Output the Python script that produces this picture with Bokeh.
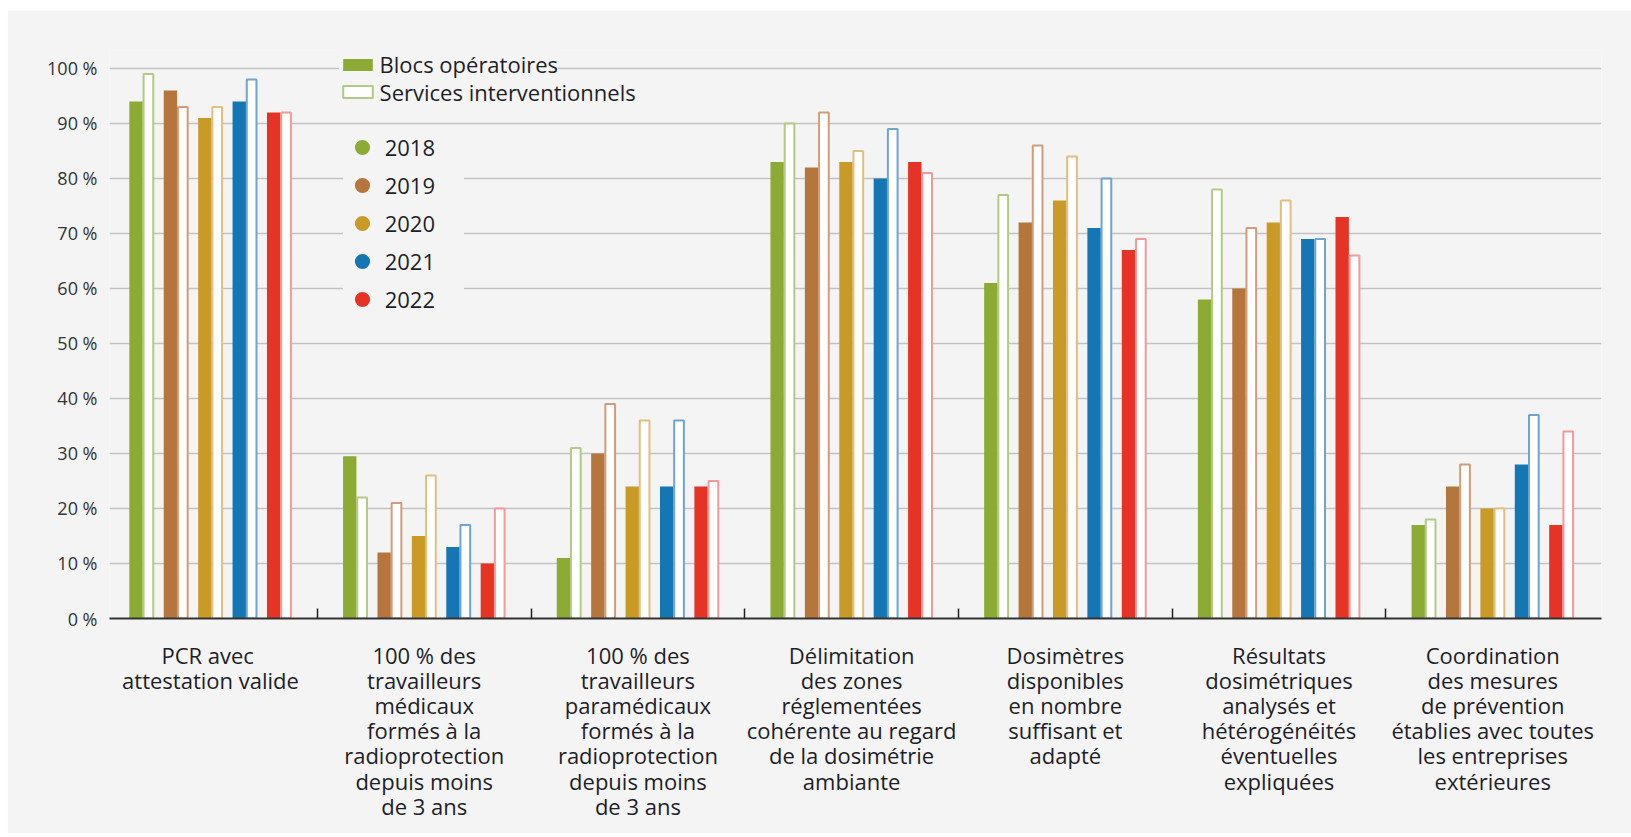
from bokeh.plotting import figure
from bokeh.models import ColumnDataSource, Range1d, FixedTicker, Legend, LegendItem
from bokeh.embed import file_html
from bokeh.resources import INLINE

# ---------------- data ----------------
categories = [
    "PCR  avec\nattestation valide",
    "100 % des\ntravailleurs\nmédicaux\nformés à la\nradioprotection\ndepuis moins\nde 3 ans",
    "100 % des\ntravailleurs\nparamédicaux\nformés à la\nradioprotection\ndepuis moins\nde 3 ans",
    "Délimitation\ndes zones\nréglementées\ncohérente au regard\nde la dosimétrie\nambiante",
    "Dosimètres\ndisponibles\nen nombre\nsuffisant et\nadapté",
    "Résultats\ndosimétriques\nanalysés et\nhétérogénéités\néventuelles\nexpliquées",
    "Coordination\ndes mesures\nde prévention\nétablies avec toutes\nles entreprises\nextérieures",
]
years = ["2018", "2019", "2020", "2021", "2022"]

blocs_2018 = [94, 29.5, 11, 83, 61, 58, 17]
blocs_2019 = [96, 12, 30, 82, 72, 60, 24]
blocs_2020 = [91, 15, 24, 83, 76, 72, 20]
blocs_2021 = [94, 13, 24, 80, 71, 69, 28]
blocs_2022 = [92, 10, 24, 83, 67, 73, 17]

services_2018 = [99, 22, 31, 90, 77, 78, 18]
services_2019 = [93, 21, 39, 92, 86, 71, 28]
services_2020 = [93, 26, 36, 85, 84, 76, 20]
services_2021 = [98, 17, 36, 89, 80, 69, 37]
services_2022 = [92, 20, 25, 81, 69, 66, 34]

blocs = [blocs_2018, blocs_2019, blocs_2020, blocs_2021, blocs_2022]
services = [services_2018, services_2019, services_2020, services_2021, services_2022]

series_labels = ["Blocs opératoires", "Services interventionnels"]
y_ticks = list(range(0, 101, 10))
y_tick_labels = [f"{v} %" for v in y_ticks]

# ---------------- style ----------------
colors = ["#8cab35", "#b5763e", "#c99b26", "#1477b3", "#e53425"]
outline_colors = ["#b2ca85", "#d09c7a", "#e0bf80", "#6ea3d2", "#f29a9a"]
BG = "#f4f4f4"
TXT = "#1e1e28"
FONT = "Open Sans"

pair_step = 0.161
filled_w = 0.0627
hollow_w = 0.0454

p = figure(width=1624, height=823, output_backend="svg", toolbar_location=None,
           x_range=Range1d(0.0274, 7.009), y_range=Range1d(0, 103.25),
           min_border_left=102, min_border_right=30, min_border_top=40,
           min_border_bottom=215)
p.margin = (10, 0, 0, 7)
p.background_fill_color = BG
p.border_fill_color = BG
p.outline_line_color = None

filled_renderers = []
hollow_renderers = []
sources = []
n = len(categories)
for j, yr in enumerate(years):
    centers = [k + 0.5 + (j - 2) * pair_step for k in range(n)]
    src = ColumnDataSource(dict(
        xb=[c - 0.0264 for c in centers],
        xs=[c + 0.0314 for c in centers],
        blocs=blocs[j],
        services=services[j],
    ))
    sources.append(src)
    rb = p.vbar(x="xb", top="blocs", bottom=0, width=filled_w, source=src,
                fill_color=colors[j], line_color=None)
    rs = p.vbar(x="xs", top="services", bottom=0, width=hollow_w, source=src,
                fill_color="white", line_color=outline_colors[j], line_width=2)
    filled_renderers.append(rb)
    hollow_renderers.append(rs)

# ---------------- axes ----------------
xa = p.xaxis[0]
xa.ticker = FixedTicker(ticks=[k + 0.5 for k in range(n)],
                        minor_ticks=[k for k in range(1, n)])
xa.major_label_overrides = {k + 0.5: categories[k] for k in range(n)}
xa.major_tick_line_color = None
xa.major_tick_in = 0
xa.major_tick_out = 0
xa.minor_tick_in = 10
xa.minor_tick_out = 0
xa.minor_tick_line_color = "#222222"
xa.minor_tick_line_width = 1.5
xa.axis_line_color = "#333333"
xa.axis_line_width = 2
xa.major_label_text_font = FONT
xa.major_label_text_font_size = "22px"
xa.major_label_text_color = TXT
xa.major_label_text_line_height = 0.84
xa.major_label_standoff = 21

ya = p.yaxis[0]
ya.ticker = FixedTicker(ticks=y_ticks)
ya.major_label_overrides = {v: lab for v, lab in zip(y_ticks, y_tick_labels)}
ya.axis_line_color = None
ya.major_tick_line_color = None
ya.minor_tick_line_color = None
ya.major_tick_in = 0
ya.major_tick_out = 0
ya.major_label_standoff = 12
ya.major_label_text_font = FONT
ya.major_label_text_font_size = "18px"
ya.major_label_text_color = "#333333"

p.xgrid.grid_line_color = None
p.ygrid.ticker = FixedTicker(ticks=y_ticks)
p.ygrid.grid_line_color = "#c2c2c2"
p.ygrid.grid_line_width = 1.5

# ---------------- legends ----------------
def style_legend(leg, bg_alpha, pad):
    leg.background_fill_color = BG
    leg.background_fill_alpha = bg_alpha
    leg.border_line_color = None
    leg.label_text_font = FONT
    leg.label_text_font_size = "22px"
    leg.label_text_color = TXT
    leg.margin = 0
    leg.padding = pad
    leg.inactive_fill_alpha = 0

leg_b = Legend(items=[LegendItem(label=series_labels[0], renderers=[filled_renderers[0]])],
               location=(229.6, 538.7))
style_legend(leg_b, 1.0, 4)
leg_b.glyph_width = 37
leg_b.glyph_height = 15
leg_b.label_height = 15
leg_b.label_standoff = 4
p.add_layout(leg_b)

leg_s = Legend(items=[LegendItem(label=series_labels[1], renderers=[hollow_renderers[0]])],
               location=(229.6, 511.2))
style_legend(leg_s, 0.0, 4)
leg_s.glyph_width = 37
leg_s.glyph_height = 15
leg_s.label_height = 15
leg_s.label_standoff = 4
p.add_layout(leg_s)

year_items = []
for j, yr in enumerate(years):
    r = p.scatter(x="xb", y="blocs", source=sources[j], marker="circle", size=18,
                  fill_color=colors[j], line_color=None, visible=False)
    year_items.append(LegendItem(label=yr, renderers=[r]))
leg_y = Legend(items=year_items, location=(233.7, 299.8))
style_legend(leg_y, 1.0, 8)
leg_y.glyph_width = 38
leg_y.glyph_height = 38
leg_y.spacing = 0
leg_y.label_standoff = 4
leg_y.label_width = 79
p.add_layout(leg_y)

open("out.html", "w").write(file_html(p, INLINE))
